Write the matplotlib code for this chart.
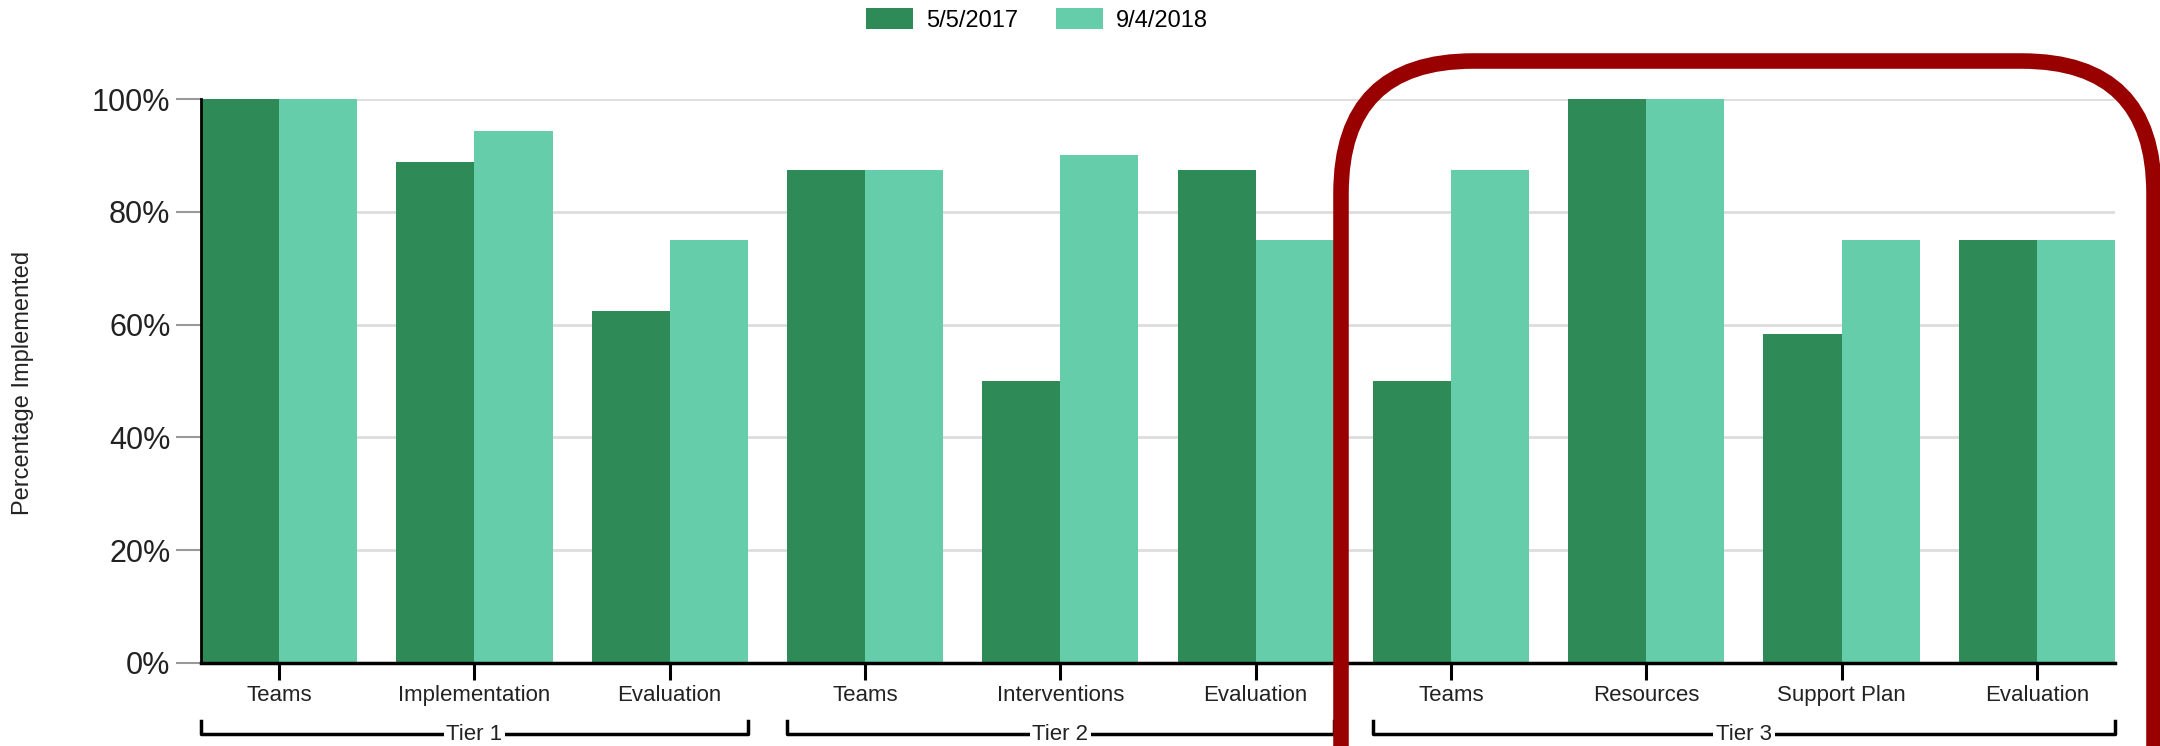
import matplotlib
matplotlib.use('Agg')
import matplotlib.pyplot as plt
from matplotlib.patches import FancyBboxPatch
from matplotlib.transforms import blended_transform_factory
import numpy as np

# Arial-like font
plt.rcParams['font.family'] = ['Liberation Sans', 'DejaVu Sans']

#########
# Dane  #
#########

kategorie = ['Teams', 'Implementation', 'Evaluation',
             'Teams', 'Interventions', 'Evaluation',
             'Teams', 'Resources', 'Support Plan', 'Evaluation']
poziomy = ['Tier 1', 'Tier 2', 'Tier 3']
ile_w_poziomie = [3, 3, 4]        # ile kategorii w kazdym Tier
daty = ['5/5/2017', '9/4/2018']
wyniki_2017 = [100, 88.9, 62.5, 87.5, 50, 87.5, 50, 100, 58.3, 75]
wyniki_2018 = [100, 94.4, 75, 87.5, 90, 75, 87.5, 100, 75, 75]
y_ticki = [0, 20, 40, 60, 80, 100]

ciemny = '#2e8b57'
jasny = '#66cdaa'
czerwony = '#990000'

W, H = 2160, 746

##########
# Wykres #
##########

fig = plt.figure(figsize=(W / 100, H / 100), dpi=100)
ax = fig.add_axes([201 / W, 1 - 663 / H, (2115 - 201) / W, (663 - 99) / H])

x = np.arange(len(kategorie))
ax.bar(x - 0.2, wyniki_2017, 0.4, color=ciemny, label=daty[0], zorder=2)
ax.bar(x + 0.2, wyniki_2018, 0.4, color=jasny, label=daty[1], zorder=2)

ax.set_xlim(-0.4, len(kategorie) - 0.6)
ax.set_ylim(0, 100)
ax.set_yticks(y_ticki)
ax.set_yticklabels([str(v) + '%' for v in y_ticki], fontsize=22, color='#222222')
ax.yaxis.grid(True, color='#dddddd', linewidth=2, zorder=0)
ax.set_axisbelow(True)
ax.tick_params(axis='y', length=18, width=1.5, color='#999999', pad=4)

ax.set_xticks(x)
ax.set_xticklabels(kategorie, fontsize=16, color='#222222')
ax.tick_params(axis='x', length=12, width=2.2, color='black', pad=4)

ax.spines['top'].set_visible(False)
ax.spines['right'].set_visible(False)
ax.spines['left'].set_linewidth(2)
ax.spines['bottom'].set_linewidth(2.5)
ax.spines['left'].set_zorder(3)
ax.spines['bottom'].set_zorder(3)

fig.text(23 / W, 1 - 383 / H, 'Percentage Implemented', rotation=90,
         ha='center', va='center', fontsize=17, color='#222222')

# Nawiasy pod osia z nazwami Tier
tr = blended_transform_factory(ax.transData, fig.transFigure)
y_linia = 1 - 734 / H
y_gora = 1 - 721 / H
start = 0
for nazwa, n in zip(poziomy, ile_w_poziomie):
    x0 = start - 0.4
    x1 = start + n - 1 + 0.4
    ax.plot([x0, x0, x1, x1], [y_gora, y_linia, y_linia, y_gora],
            color='black', lw=2.5, transform=tr, clip_on=False)
    ax.text((x0 + x1) / 2, y_linia, nazwa, transform=tr, ha='center',
            va='center', fontsize=16, color='#222222',
            bbox=dict(facecolor='white', edgecolor='none', pad=2))
    start += n

# Legenda
fig.legend(loc='center', bbox_to_anchor=(1037 / W, 1 - 20 / H), ncol=2,
           frameon=False, fontsize=17, handlelength=2.0, handleheight=0.97,
           handletextpad=0.55, columnspacing=1.6)

# Czerwona ramka wokol Tier 3 (okragle rogi, promien ~132 px)
rx = 132 / W
ry = 132 / H
ramka = FancyBboxPatch((1341 / W, -0.2), (2154 - 1341) / W, 1 - 61 / H + 0.2,
                       boxstyle='round,pad=0,rounding_size=%f' % rx,
                       mutation_aspect=ry / rx, transform=fig.transFigure,
                       fill=False, edgecolor=czerwony, linewidth=11.2,
                       clip_on=False)
fig.add_artist(ramka)

fig.savefig('out.png', dpi=100)
